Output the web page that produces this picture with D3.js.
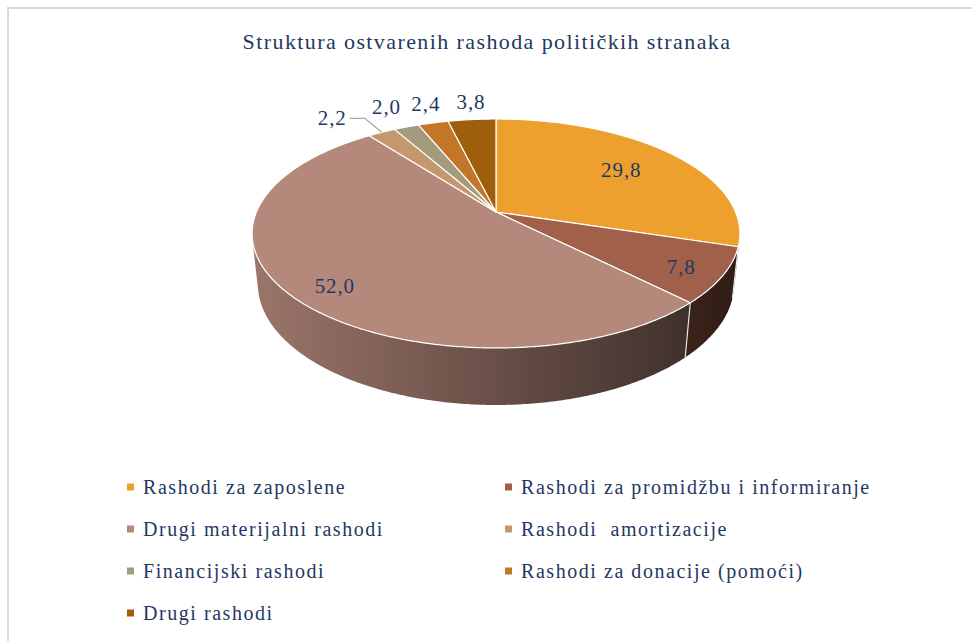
<!DOCTYPE html>
<html><head><meta charset="utf-8">
<script src="https://cdn.jsdelivr.net/npm/d3@7/dist/d3.min.js"></script>
<style>html,body{margin:0;padding:0;background:#fff;}svg{display:block;}
svg text{font-family:"Liberation Serif","DejaVu Serif",serif;}</style>
</head><body><svg id="chart" width="972" height="641"></svg>
<script>
// ---- data ----
const title = "Struktura ostvarenih rashoda političkih stranaka";
const categories = [
  "Rashodi za zaposlene",
  "Rashodi za promidžbu i informiranje",
  "Drugi materijalni rashodi",
  "Rashodi  amortizacije",
  "Financijski rashodi",
  "Rashodi za donacije (pomoći)",
  "Drugi rashodi"
];
const values = [29.8, 7.8, 52.0, 2.2, 2.0, 2.4, 3.8];
const colors = ["#EDA02E", "#A1604A", "#B4887B", "#C4976E", "#A29C7C", "#C37528", "#9E5F0C"];

// ---- layout / style ----
const W = 972, H = 641;
const textColor = "#1F3864";
const cx = 496, cy = 212;           // projected pie centre
const sinA = 0.461, cosA = Math.sqrt(1 - sinA * sinA);
const D = 4.729, F = 1133, T = 0.239; // camera distance, focal, thickness (pie radius = 1)

const svg = d3.select("#chart");
svg.append("rect").attr("width", W).attr("height", H).attr("fill", "#fff");
svg.append("rect").attr("x", 8).attr("y", 8).attr("width", W + 20).attr("height", H + 20)
  .attr("fill", "none").attr("stroke", "#D9D9D9").attr("stroke-width", 2);

svg.append("text").attr("x", 487).attr("y", 49).attr("text-anchor", "middle")
  .attr("font-size", 22).attr("letter-spacing", 1.4).attr("fill", textColor).text(title);

function proj(r, theta, z) {
  const X = r * Math.sin(theta), Y = r * Math.cos(theta);
  const depth = D + Y * cosA - z * sinA;
  const yc = Y * sinA + z * cosA;
  return [cx + F * X / depth, cy - F * yc / depth];
}
function arcPts(r, a0, a1, z) {
  const n = Math.max(2, Math.ceil(Math.abs(a1 - a0) / 0.01));
  const pts = [];
  for (let i = 0; i <= n; i++) pts.push(proj(r, a0 + (a1 - a0) * i / n, z));
  return pts;
}
const line = d3.line();

const pie = d3.pie().sort(null).value(d => d);
const arcs = pie(values);

const defs = svg.append("defs");
const shade = d3.scaleLinear().domain([252, 740]).range([0.86, 0.3]);
arcs.forEach((a, i) => {
  const g = defs.append("linearGradient").attr("id", "side" + i)
    .attr("gradientUnits", "userSpaceOnUse").attr("x1", 252).attr("x2", 740).attr("y1", 0).attr("y2", 0);
  const c = d3.rgb(colors[i]);
  [252, 740].forEach((x, k) => {
    const f = shade(x);
    g.append("stop").attr("offset", k).attr("stop-color", d3.rgb(c.r * f, c.g * f, c.b * f).formatHex());
  });
});

// visible wall range
const lim = Math.acos(-1 / (D * cosA));
const visA = lim, visB = 2 * Math.PI - lim;
const walls = svg.append("g");
arcs.forEach((a, i) => {
  const a0 = Math.max(a.startAngle, visA), a1 = Math.min(a.endAngle, visB);
  if (a1 <= a0) return;
  const top = arcPts(1, a0, a1, 0), bot = arcPts(1, a1, a0, -T);
  walls.append("path").attr("d", line(top.concat(bot)) + "Z")
    .attr("fill", `url(#side${i})`).attr("stroke", "none");
});
arcs.forEach(a => {
  const t = a.startAngle;
  if (t > visA && t < visB) {
    walls.append("path").attr("d", line([proj(1, t, 0), proj(1, t, -T)]))
      .attr("stroke", "#fff").attr("stroke-width", 1.2).attr("opacity", 0.85);
  }
});

// top faces
const tops = svg.append("g");
arcs.forEach((a, i) => {
  const pts = [proj(0, 0, 0)].concat(arcPts(1, a.startAngle, a.endAngle, 0));
  tops.append("path").attr("d", line(pts) + "Z").attr("fill", colors[i])
    .attr("stroke", "#fff").attr("stroke-width", 1.2).attr("stroke-linejoin", "round");
});

// labels
const fmt = v => d3.format(".1f")(v).replace(".", ",");
const labelR = [0.7, 0.84, 0.79, 1.2, 1.2, 1.2, 1.2];
const labelDx = [0, -2, -3, 0, -5, 3, 3];
const labelDy = [0, 2, 10, 0, -6, -5, -3];
const lbl = svg.append("g").attr("font-size", 21).attr("letter-spacing", 0.9).attr("fill", textColor);
arcs.forEach((a, i) => {
  const mid = (a.startAngle + a.endAngle) / 2;
  let [x, y] = proj(labelR[i], mid, 0);
  x += labelDx[i]; y += labelDy[i];
  if (i === 3) {
    const p0 = proj(1, mid, 0);
    const p1 = [p0[0] - 17, p0[1] - 14];
    const p2 = [p1[0] - 15, p1[1]];
    svg.append("path").attr("d", line([p0, p1, p2])).attr("fill", "none")
      .attr("stroke", "#A6A6A6").attr("stroke-width", 1.3);
    lbl.append("text").attr("x", p2[0] - 3).attr("y", p2[1]).attr("dy", "0.3em")
      .attr("text-anchor", "end").text(fmt(values[i]));
  } else {
    lbl.append("text").attr("x", x).attr("y", y).attr("dy", "0.35em")
      .attr("text-anchor", "middle").text(fmt(values[i]));
  }
});

// legend
const leg = svg.append("g").attr("font-size", 20).attr("letter-spacing", 1.55).attr("fill", textColor);
const colX = [127, 505], rowY = d3.range(4).map(r => 487 + r * 42);
categories.forEach((c, i) => {
  const col = i % 2, row = Math.floor(i / 2);
  const g = leg.append("g").attr("transform", `translate(${colX[col]},${rowY[row]})`);
  g.append("rect").attr("x", 0).attr("y", -3.5).attr("width", 7).attr("height", 7).attr("fill", colors[i]);
  g.append("text").attr("x", 16).attr("y", 0).attr("dy", "0.35em").style("white-space", "pre").text(c);
});
</script></body></html>
